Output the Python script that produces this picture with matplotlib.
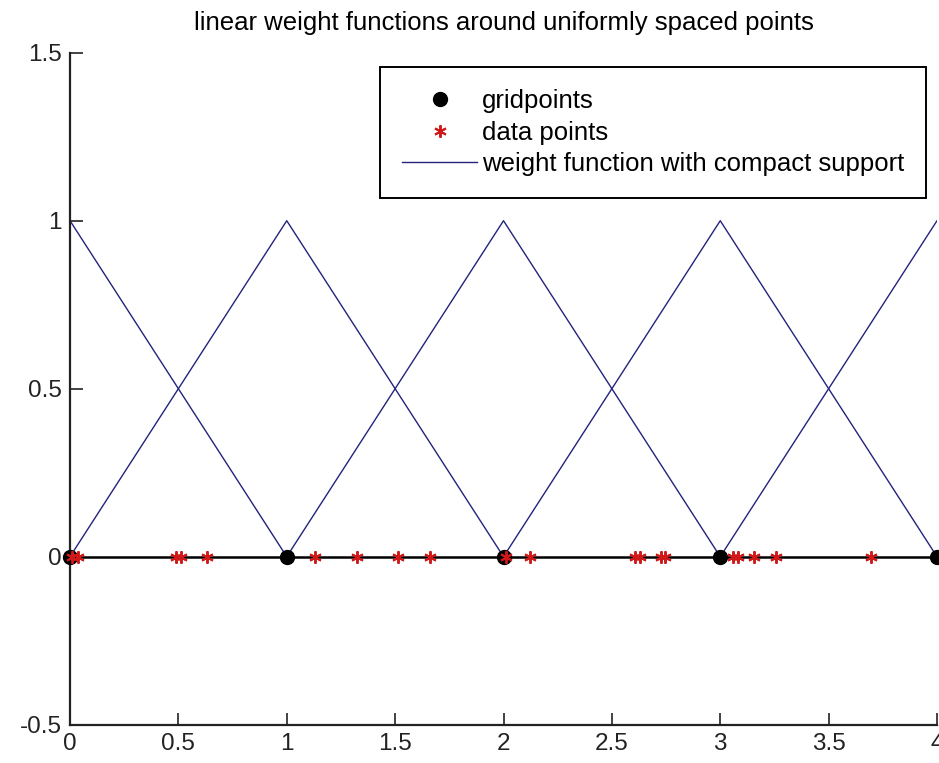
import matplotlib
matplotlib.use("Agg")
import matplotlib.pyplot as plt
import numpy as np

plt.rcParams['font.family'] = ['Liberation Sans', 'DejaVu Sans']

# grid nodes and scattered sample locations
grid_x = [0, 1, 2, 3, 4]
data_x = [0.01, 0.035, 0.49, 0.51, 0.63, 1.13, 1.325, 1.515, 1.66, 2.01,
          2.12, 2.605, 2.63, 2.725, 2.745, 3.06, 3.08, 3.155, 3.255, 3.695]
x_ticks = [0, 0.5, 1, 1.5, 2, 2.5, 3, 3.5, 4]
x_ticklabels = ['0', '0.5', '1', '1.5', '2', '2.5', '3', '3.5', '4']
y_ticks = [-0.5, 0, 0.5, 1, 1.5]
y_ticklabels = ['-0.5', '0', '0.5', '1', '1.5']

fig = plt.figure(figsize=(9.39, 7.63), dpi=100)
ax = fig.add_axes([70 / 939, 38.3 / 763, 867 / 939, 672 / 763])

line_col = '#23237e'
star_col = '#d01818'

# baseline through the grid
ax.plot([grid_x[0], grid_x[-1]], [0, 0], color='black', lw=1.8, zorder=1)

h_grid, = ax.plot(grid_x, np.zeros(len(grid_x)), 'o', color='black',
                  markersize=10, linestyle='none', zorder=3, clip_on=False)
h_data, = ax.plot(data_x, np.zeros(len(data_x)), linestyle='none',
                  marker=(6, 2, 0), color=star_col, markersize=9,
                  markeredgewidth=1.4, zorder=4, clip_on=False)

# hat functions centered on each grid node
h_line = None
for c in grid_x:
    xs = [c - 1, c, c + 1]
    ys = [0, 1, 0]
    h_line, = ax.plot(xs, ys, color=line_col, lw=1.0, zorder=2)

ax.set_xlim(0, 4)
ax.set_ylim(-0.5, 1.5)
ax.set_xticks(x_ticks)
ax.set_xticklabels(x_ticklabels)
ax.set_yticks(y_ticks)
ax.set_yticklabels(y_ticklabels)
ax.spines['top'].set_visible(False)
ax.spines['right'].set_visible(False)
for s in ('left', 'bottom'):
    ax.spines[s].set_linewidth(1.6)
    ax.spines[s].set_color('#222222')
ax.tick_params(direction='in', length=9, width=1.2, labelsize=17.5,
               colors='#222222')
ax.tick_params(axis='x', pad=6)
ax.tick_params(axis='y', pad=6)

ax.set_title('linear weight functions around uniformly spaced points',
             fontsize=18.5, pad=16)

leg = ax.legend([h_grid, h_data, h_line],
                ['gridpoints', 'data points', 'weight function with compact support'],
                loc='upper right', bbox_to_anchor=(926 / 939, 1 - 67 / 763),
                bbox_transform=fig.transFigure, borderaxespad=0,
                fancybox=False, framealpha=1, edgecolor='black',
                fontsize=18.5, handlelength=2.9, handletextpad=0.2,
                labelspacing=0.3, borderpad=0.85)
leg.get_frame().set_linewidth(1.4)

fig.savefig('out.png', dpi=100)
